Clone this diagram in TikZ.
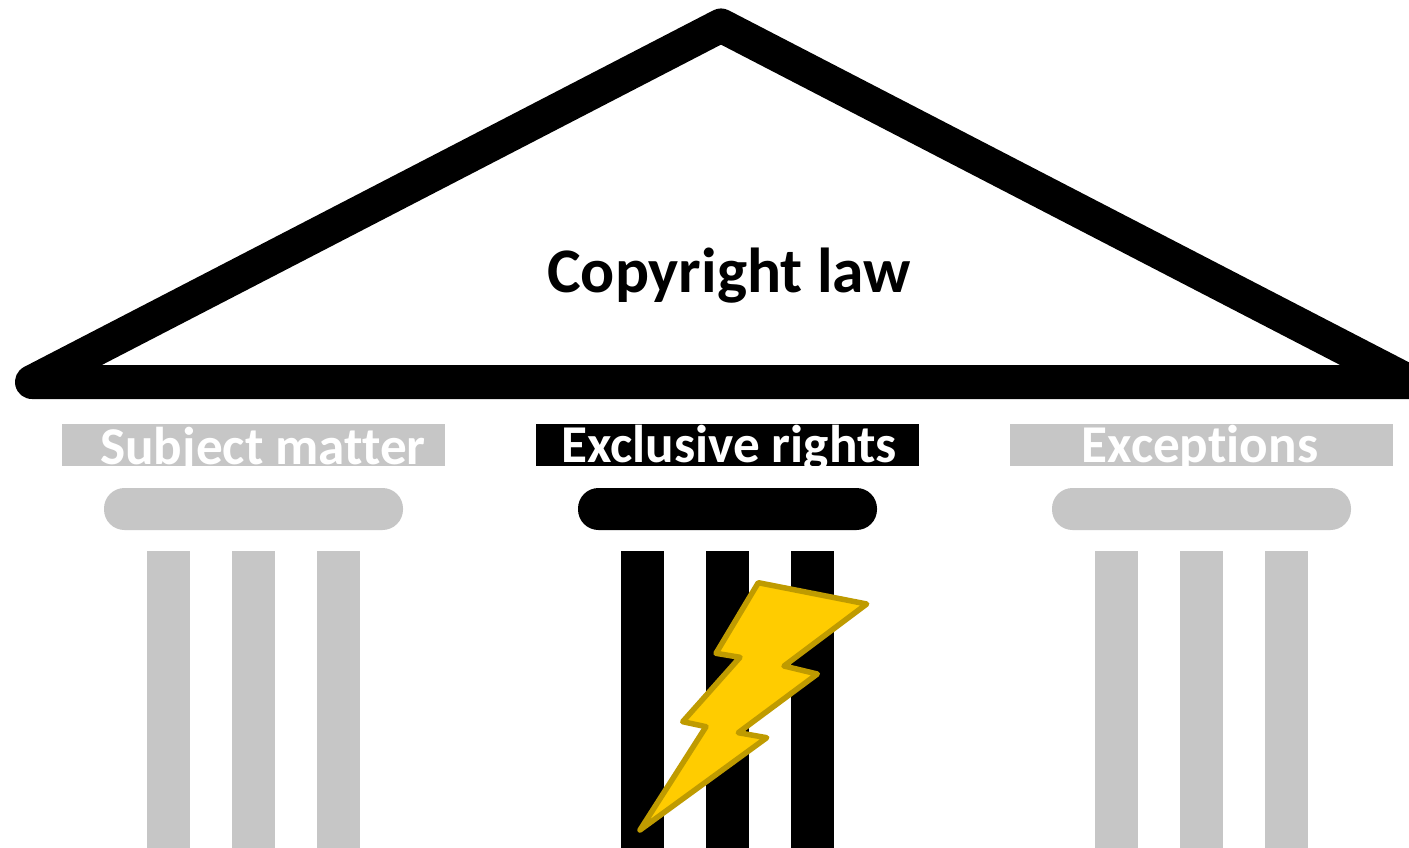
\documentclass[tikz,border=0pt]{standalone}
\usepackage{fontspec}
\setmainfont[Ligatures=NoCommon]{Carlito}
\definecolor{pgray}{HTML}{C6C6C6}
\definecolor{boltfill}{HTML}{FFCC00}
\definecolor{boltline}{HTML}{BF9B00}
\tikzset{
  roof/.style={draw=black,line width=34pt,line join=round,fill=white},
  beam/.style={draw=none,minimum width=383pt,minimum height=42pt,inner sep=0pt},
  capital/.style={draw=none,rounded corners=20.5pt},
  shaft/.style={draw=none},
  bigtxt/.style={font=\bfseries\fontsize{63.5}{63.5}\selectfont,text=black,inner sep=0pt,anchor=base},
  lbl/.style={font=\bfseries\fontsize{53.2}{53.2}\selectfont,text=white,inner sep=0pt,anchor=base},
  bolt/.style={draw=boltline,fill=boltfill,line width=5.5pt,line join=round}
}
\begin{document}
\begin{tikzpicture}[x=1pt,y=-1pt]
\useasboundingbox (0,0) rectangle (1409,848);
\clip (0,0) rectangle (1409,848);
\fill[white] (0,0) rectangle (1409,848);
\draw[roof] (32,382) -- (721,25.5) -- (1410,382) -- cycle;
\node[bigtxt] (title) at (729,292) {Copyright law};
% pillars
\foreach \name/\xx/\col in {a/0/pgray,b/474/black,c/948/pgray}{
  \begin{scope}[xshift=\xx pt]
    \node[beam,fill=\col] (beam\name) at (253.5,445) {};
    \fill[capital,fill=\col] (104,488) rectangle (403,530);
    \fill[shaft,fill=\col] (147,551) rectangle (190,848);
    \fill[shaft,fill=\col] (232,551) rectangle (275,848);
    \fill[shaft,fill=\col] (317,551) rectangle (360,848);
  \end{scope}
}
\node[lbl] (lsubject) at (263,464) {Subject matter};
\node[lbl] (lrights) at (729,462) {Exclusive rights};
\node[lbl] (lexcept) at (1200,462) {Exceptions};
\draw[bolt] (758.3,582.7) -- (866.7,604) -- (784,666) -- (817.3,674) -- (738.3,732.7) -- (766.7,737.7) -- (640,830) -- (706,726.7) -- (682.7,721.7) -- (740,657.3) -- (716,653.3) -- cycle;
\end{tikzpicture}
\end{document}
